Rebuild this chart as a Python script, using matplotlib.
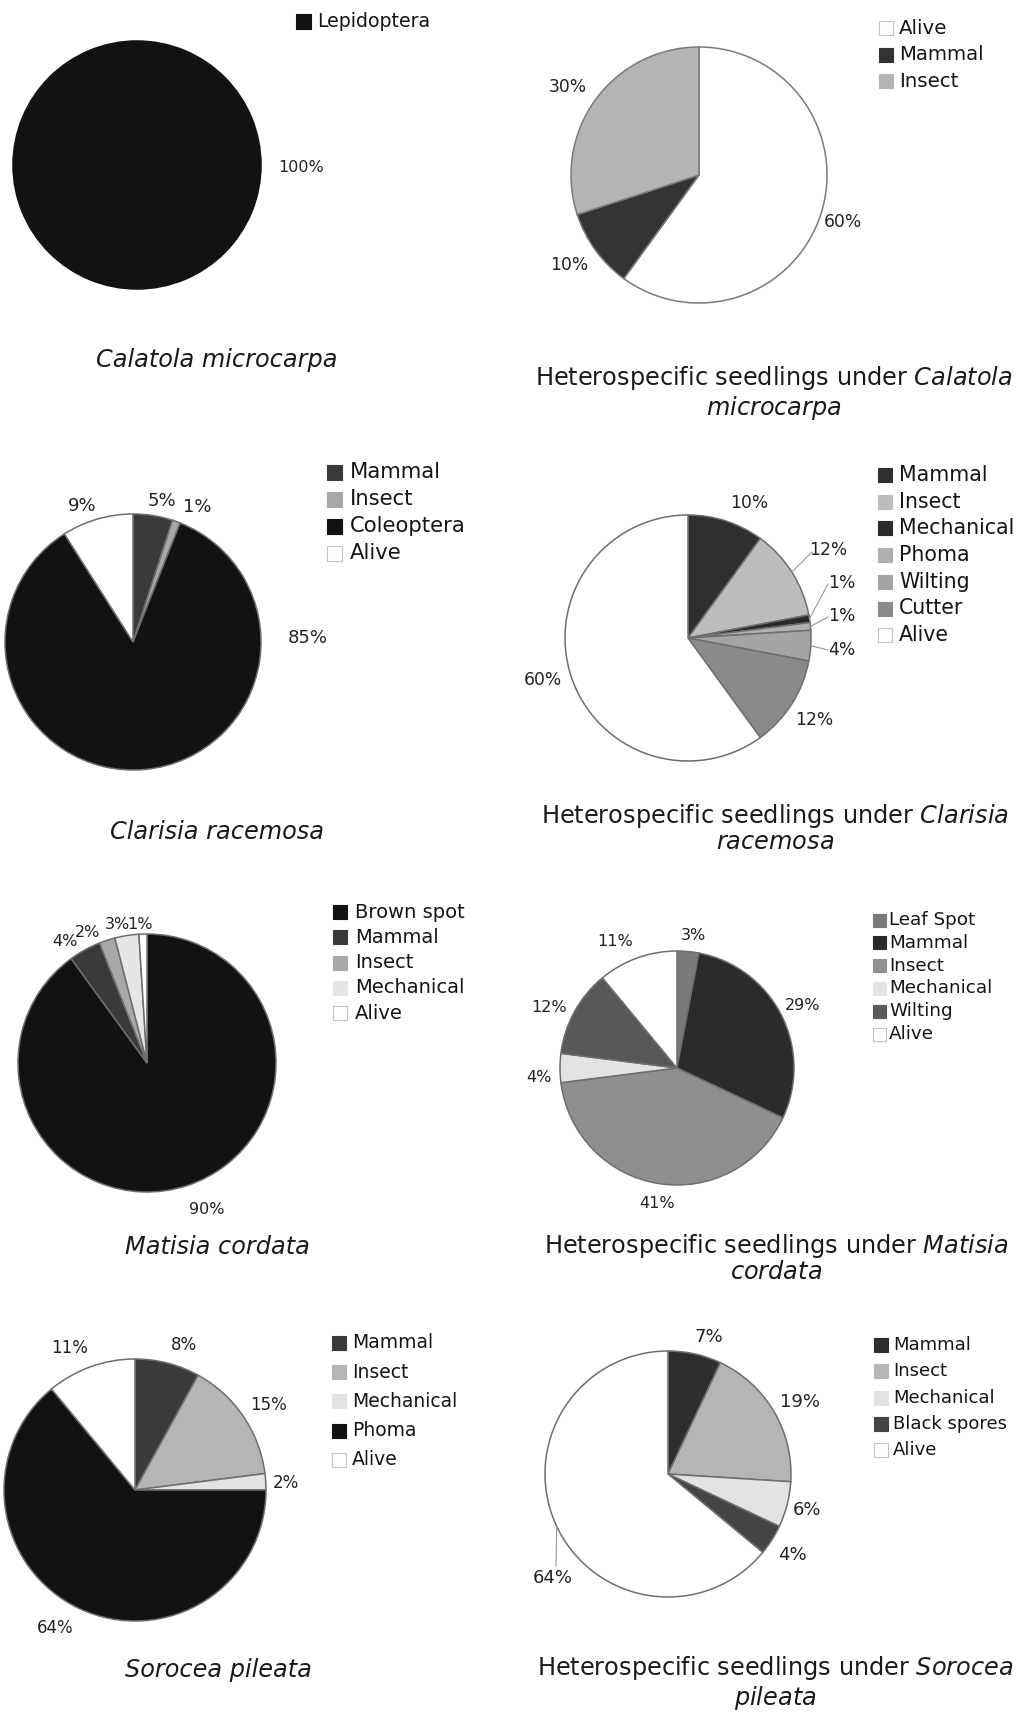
import matplotlib
matplotlib.use('Agg')
import matplotlib.pyplot as plt
from matplotlib.patches import Rectangle
import numpy as np

W, H = 1022, 1714

# causes of seedling death / survival, percent of seedlings
calatola_cats = ['Lepidoptera']
calatola_vals = [100]

het_calatola_cats = ['Alive', 'Mammal', 'Insect']
het_calatola_vals = [60, 10, 30]

clarisia_cats = ['Mammal', 'Insect', 'Coleoptera', 'Alive']
clarisia_vals = [5, 1, 85, 9]

het_clarisia_cats = ['Mammal', 'Insect', 'Mechanical', 'Phoma', 'Wilting', 'Cutter', 'Alive']
het_clarisia_vals = [10, 12, 1, 1, 4, 12, 60]

matisia_cats = ['Brown spot', 'Mammal', 'Insect', 'Mechanical', 'Alive']
matisia_vals = [90, 4, 2, 3, 1]

het_matisia_cats = ['Leaf Spot', 'Mammal', 'Insect', 'Mechanical', 'Wilting', 'Alive']
het_matisia_vals = [3, 29, 41, 4, 12, 11]

sorocea_cats = ['Mammal', 'Insect', 'Mechanical', 'Phoma', 'Alive']
sorocea_vals = [8, 15, 2, 64, 11]

het_sorocea_cats = ['Mammal', 'Insect', 'Mechanical', 'Black spores', 'Alive']
het_sorocea_vals = [7, 19, 6, 4, 64]

# layout in pixels: pie centre/radius, label centres, legend, title
panels = [
    dict(cats=calatola_cats, vals=calatola_vals, colors=['#121212'], edge='#121212',
         c=(137, 165), r=124, pct=[(301, 168)], pct_fs=11.5,
         leg=(296, 21), gap=26, leg_fs=13.6, sq=15, txt_dx=21,
         title='Calatola microcarpa', italic=True, title_xy=(217, 360)),
    dict(cats=het_calatola_cats, vals=het_calatola_vals, colors=['#ffffff', '#333333', '#b4b4b4'], edge='#7a7a7a',
         c=(699, 175), r=128, pct=[(843, 222), (569, 265), (568, 87)], pct_fs=12.3,
         leg=(879, 28), gap=26.5, leg_fs=14.2, sq=14, txt_dx=20,
         title='Heterospecific seedlings under $\\mathit{Calatola}$\n$\\mathit{microcarpa}$', italic=False,
         title_xy=(774, 393)),
    dict(cats=clarisia_cats, vals=clarisia_vals, colors=['#3a3a3a', '#a8a8a8', '#121212', '#ffffff'], edge='#6e6e6e',
         c=(133, 642), r=128, pct=[(162, 501), (197, 507), (308, 638), (82, 506)], pct_fs=13,
         leg=(327, 472), gap=27, leg_fs=15.2, sq=15, txt_dx=23,
         title='Clarisia racemosa', italic=True, title_xy=(217, 832)),
    dict(cats=het_clarisia_cats, vals=het_clarisia_vals,
         colors=['#2f2f2f', '#bdbdbd', '#2a2a2a', '#b0b0b0', '#a4a4a4', '#8a8a8a', '#ffffff'], edge='#6e6e6e',
         c=(688, 638), r=123,
         pct=[(749, 503), (828, 550), (842, 583), (842, 616), (842, 650), (814, 720), (543, 680)], pct_fs=12.3,
         leaders={1: (812, 552), 2: (828, 584), 3: (828, 617), 4: (828, 650)},
         leg=(878, 475), gap=26.7, leg_fs=14.8, sq=14, txt_dx=21,
         title='Heterospecific seedlings under $\\mathit{Clarisia}$\n$\\mathit{racemosa}$', italic=False,
         title_xy=(775, 828)),
    dict(cats=matisia_cats, vals=matisia_vals, colors=['#121212', '#3a3a3a', '#a8a8a8', '#e6e6e6', '#ffffff'], edge='#6e6e6e',
         c=(147, 1063), r=129, pct=[(207, 1210), (65, 942), (88, 933), (117, 925), (140, 925)], pct_fs=11.5,
         leg=(333, 912), gap=25.3, leg_fs=14, sq=14, txt_dx=22,
         title='Matisia cordata', italic=True, title_xy=(217, 1247)),
    dict(cats=het_matisia_cats, vals=het_matisia_vals,
         colors=['#7a7a7a', '#2b2b2b', '#8f8f8f', '#e3e3e3', '#585858', '#ffffff'], edge='#6e6e6e',
         c=(677, 1068), r=117,
         pct=[(693, 935), (803, 1005), (657, 1203), (539, 1077), (549, 1007), (615, 942)], pct_fs=11.5,
         leg=(873, 920), gap=22.8, leg_fs=13.2, sq=13, txt_dx=16,
         title='Heterospecific seedlings under $\\mathit{Matisia}$\n$\\mathit{cordata}$', italic=False,
         title_xy=(776, 1258)),
    dict(cats=sorocea_cats, vals=sorocea_vals, colors=['#3a3a3a', '#b5b5b5', '#e3e3e3', '#121212', '#ffffff'], edge='#6e6e6e',
         c=(135, 1490), r=131, pct=[(184, 1345), (269, 1405), (286, 1483), (55, 1628), (70, 1348)], pct_fs=12,
         leg=(332, 1343), gap=29.2, leg_fs=13.5, sq=14, txt_dx=20,
         title='Sorocea pileata', italic=True, title_xy=(218, 1670)),
    dict(cats=het_sorocea_cats, vals=het_sorocea_vals,
         colors=['#2e2e2e', '#b5b5b5', '#e3e3e3', '#444444', '#ffffff'], edge='#6e6e6e',
         c=(668, 1474), r=123, pct=[(709, 1337), (800, 1402), (807, 1510), (792, 1555), (553, 1578)], pct_fs=13,
         leaders={4: (556, 1566)},
         leg=(874, 1345), gap=26.3, leg_fs=13, sq=14, txt_dx=19,
         title='Heterospecific seedlings under $\\mathit{Sorocea}$\n$\\mathit{pileata}$', italic=False,
         title_xy=(775, 1683)),
]

fig = plt.figure(figsize=(W / 100, H / 100), dpi=100)
fig.patch.set_facecolor('white')

# full-figure overlay in pixel units for titles and legends
ov = fig.add_axes([0, 0, 1, 1])
ov.set_xlim(0, W)
ov.set_ylim(H, 0)
ov.axis('off')

for p in panels:
    cx, cy = p['c']
    r = p['r']
    ax = fig.add_axes([(cx - r) / W, 1 - (cy + r) / H, 2 * r / W, 2 * r / H])
    wedges, texts, autotexts = ax.pie(
        p['vals'], colors=p['colors'], startangle=90, counterclock=False, radius=1,
        autopct=lambda v: f'{v:.0f}%',
        wedgeprops=dict(edgecolor=p['edge'], linewidth=1.1),
        textprops=dict(fontsize=p['pct_fs'], color='#222222'))
    ax.set_xlim(-1, 1)
    ax.set_ylim(-1, 1)
    for t, (px, py) in zip(autotexts, p['pct']):
        t.set_position(((px - cx) / r, (cy - py) / r))

    for i, (lx, ly) in p.get('leaders', {}).items():
        w = wedges[i]
        th = np.deg2rad((w.theta1 + w.theta2) / 2)
        ax.plot([np.cos(th), (lx - cx) / r], [np.sin(th), (cy - ly) / r],
                color='#999999', lw=0.8, clip_on=False)

    # legend
    lx, ly = p['leg']
    sq = p['sq']
    for k, (name, col) in enumerate(zip(p['cats'], p['colors'])):
        yk = ly + k * p['gap']
        ec = '#c4c4c4' if col == '#ffffff' else col
        ov.add_patch(Rectangle((lx, yk - sq / 2), sq, sq, facecolor=col, edgecolor=ec, lw=0.8))
        ov.text(lx + p['txt_dx'], yk, name, fontsize=p['leg_fs'], color='#151515',
                ha='left', va='center')

    tx, ty = p['title_xy']
    ov.text(tx, ty, p['title'], fontsize=17.3, color='#1a1a1a', ha='center', va='center',
            multialignment='center', linespacing=1.05,
            style='italic' if p['italic'] else 'normal')

fig.savefig('out.png', dpi=100, facecolor='white')
